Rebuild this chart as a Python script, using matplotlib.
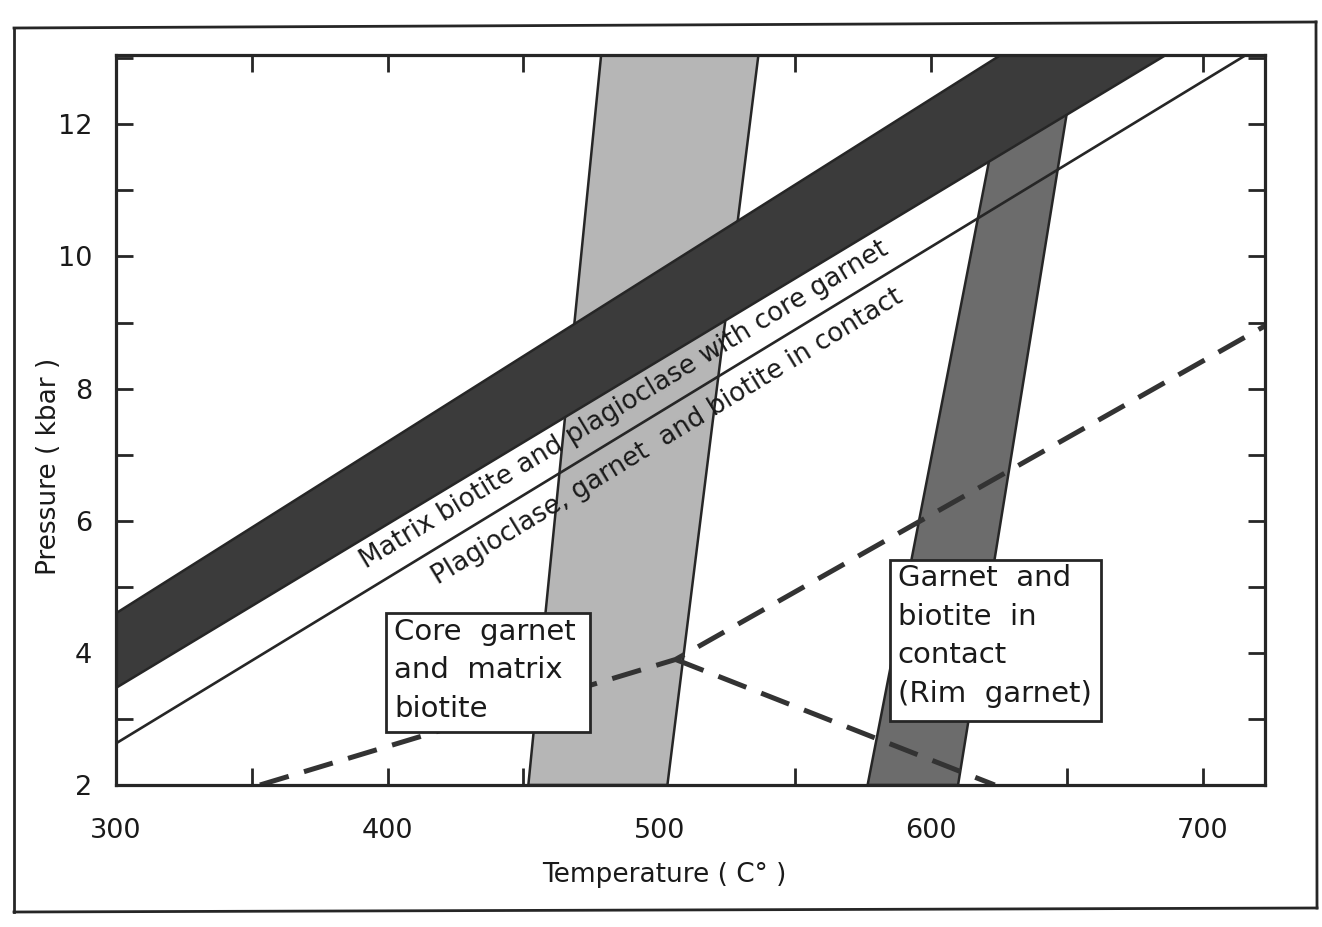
import numpy as np
import matplotlib
matplotlib.use("Agg")
import matplotlib.pyplot as plt
from matplotlib.patches import Polygon, Rectangle
from matplotlib.lines import Line2D

# ---------------- data (T in deg C, P in kbar) ----------------
T_MIN, T_MAX = 300, 723
P_MIN, P_MAX = 2, 13.05

# Dark band: matrix biotite + plagioclase with core garnet (barometer)
dark_upper_T = [300, 625.7]
dark_upper_P = [4.60, 13.05]
dark_lower_T = [300, 686.5]
dark_lower_P = [3.47, 13.05]

# Thin line: plagioclase, garnet and biotite in contact
thin_T = [300, 716]
thin_P = [2.63, 13.05]

# Light band: core garnet + matrix biotite (thermometer)
light_left_T = [451.8, 478.6]
light_left_P = [2.0, 13.05]
light_right_T = [503.0, 536.5]
light_right_P = [2.0, 13.05]

# Medium band: garnet + biotite in contact, rim garnet (thermometer)
rim_left_T = [576.7, 629.0]
rim_left_P = [2.0, 13.05]
rim_right_T = [610.0, 653.5]
rim_right_P = [2.0, 13.05]

# Dashed P-T path
path1_T = [353, 506, 723]
path1_P = [2.0, 3.90, 8.95]
path2_T = [506, 623.5]
path2_P = [3.90, 2.0]

x_ticks = [300, 350, 400, 450, 500, 550, 600, 650, 700]
x_labels = ["300", "", "400", "", "500", "", "600", "", "700"]
y_ticks = [2, 3, 4, 5, 6, 7, 8, 9, 10, 11, 12, 13]
y_labels = ["2", "", "4", "", "6", "", "8", "", "10", "", "12", ""]

label_matrix = "Matrix biotite and plagioclase with core garnet"
label_plag = "Plagioclase, garnet  and biotite in contact"
box_core_text = "Core  garnet\nand  matrix\nbiotite"
box_rim_text = "Garnet  and\nbiotite  in\ncontact\n(Rim  garnet)"
box_core = (399.5, 2.80, 474.5, 4.60)   # T0, P0, T1, P1
box_rim = (585.0, 2.97, 662.8, 5.41)

# ---------------- styling ----------------
INK = "#262626"
DARK = "#3b3b3b"
LIGHT = "#b6b6b6"
MED = "#6c6c6c"
plt.rcParams["font.family"] = ["DejaVu Sans"]

fig = plt.figure(figsize=(13.22, 9.27), dpi=100)
W, H = 1322, 927
ax = fig.add_axes([116 / W, 1 - 785 / H, (1265 - 116) / W, (785 - 55) / H])
ax.set_xlim(T_MIN, T_MAX)
ax.set_ylim(P_MIN, P_MAX)


def band(lt, lp, rt, rp, fc, z):
    pts = [(lt[0], lp[0]), (lt[1], lp[1]), (rt[1], rp[1]), (rt[0], rp[0])]
    ax.add_patch(Polygon(pts, closed=True, facecolor=fc, edgecolor=INK,
                         linewidth=1.8, zorder=z))


# bands (dark barometer band drawn over the thermometer bands)
band(light_left_T, light_left_P, light_right_T, light_right_P, LIGHT, 2)
band(rim_left_T, rim_left_P, rim_right_T, rim_right_P, MED, 2)
dark_pts = [(dark_lower_T[0], dark_lower_P[0]), (dark_upper_T[0], dark_upper_P[0]),
            (dark_upper_T[1], dark_upper_P[1]), (dark_lower_T[1], dark_lower_P[1])]
ax.add_patch(Polygon(dark_pts, closed=True, facecolor=DARK, edgecolor=INK,
                     linewidth=1.8, zorder=3))

ax.plot(thin_T, thin_P, color=INK, lw=1.9, zorder=4, solid_capstyle="butt")

ax.plot(path1_T, path1_P, color="#333333", lw=3.6, dashes=(6, 3.2), zorder=5,
        dash_capstyle="butt", clip_on=True)
ax.plot(path2_T, path2_P, color="#333333", lw=3.6, dashes=(6, 3.2), zorder=5,
        dash_capstyle="butt", clip_on=True)

# rotated labels along the bands
slope_dark = (dark_lower_P[1] - dark_lower_P[0]) / (dark_lower_T[1] - dark_lower_T[0])
slope_thin = (thin_P[1] - thin_P[0]) / (thin_T[1] - thin_T[0])
Tm = 487
ax.text(Tm, dark_lower_P[0] + slope_dark * (Tm - 300) - 0.35, label_matrix,
        rotation=np.degrees(np.arctan(slope_dark)), transform_rotates_text=True,
        rotation_mode="anchor", ha="center", va="center", fontsize=18.8,
        color="#1a1a1a", zorder=6)
Tp = 503
ax.text(Tp, thin_P[0] + slope_thin * (Tp - 300) - 0.44, label_plag,
        rotation=np.degrees(np.arctan(slope_thin)), transform_rotates_text=True,
        rotation_mode="anchor", ha="center", va="center", fontsize=18.8,
        color="#1a1a1a", zorder=6)

# text boxes
for (t0, p0, t1, p1), txt in [(box_core, box_core_text), (box_rim, box_rim_text)]:
    ax.add_patch(Rectangle((t0, p0), t1 - t0, p1 - p0, facecolor="white",
                           edgecolor=INK, linewidth=2.0, zorder=7))
    ax.text(t0 + 2.8, p1 - 0.07, txt, ha="left", va="top", fontsize=21,
            linespacing=1.48, color="#1a1a1a", zorder=8)

# axes styling
for s in ax.spines.values():
    s.set_linewidth(2.3)
    s.set_color(INK)
    s.set_zorder(9)
ax.set_xticks(x_ticks)
ax.set_xticklabels(x_labels)
ax.set_yticks(y_ticks)
ax.set_yticklabels(y_labels)
ax.tick_params(axis="both", direction="in", length=12, width=2.0, color=INK,
               labelsize=19.5, labelcolor="#1a1a1a", top=True, right=True)
ax.tick_params(axis="x", pad=24)
ax.tick_params(axis="y", pad=17)

ax.set_xlabel("Temperature ( C° )", fontsize=19, color="#1a1a1a")
ax.xaxis.set_label_coords(0.477, -0.105)
ax.set_ylabel("Pressure ( kbar )", fontsize=19, color="#1a1a1a")
ax.yaxis.set_label_coords(-0.047, 0.437)

# scanned page frame
for (x0, y0, x1, y1) in [(14, 28, 1316, 22), (1316, 22, 1317, 908),
                         (1317, 908, 14, 912), (14, 912, 14, 28)]:
    fig.add_artist(Line2D([x0 / W, x1 / W], [1 - y0 / H, 1 - y1 / H],
                          transform=fig.transFigure, color=INK, lw=2.0))

fig.savefig("out.png", dpi=100)
